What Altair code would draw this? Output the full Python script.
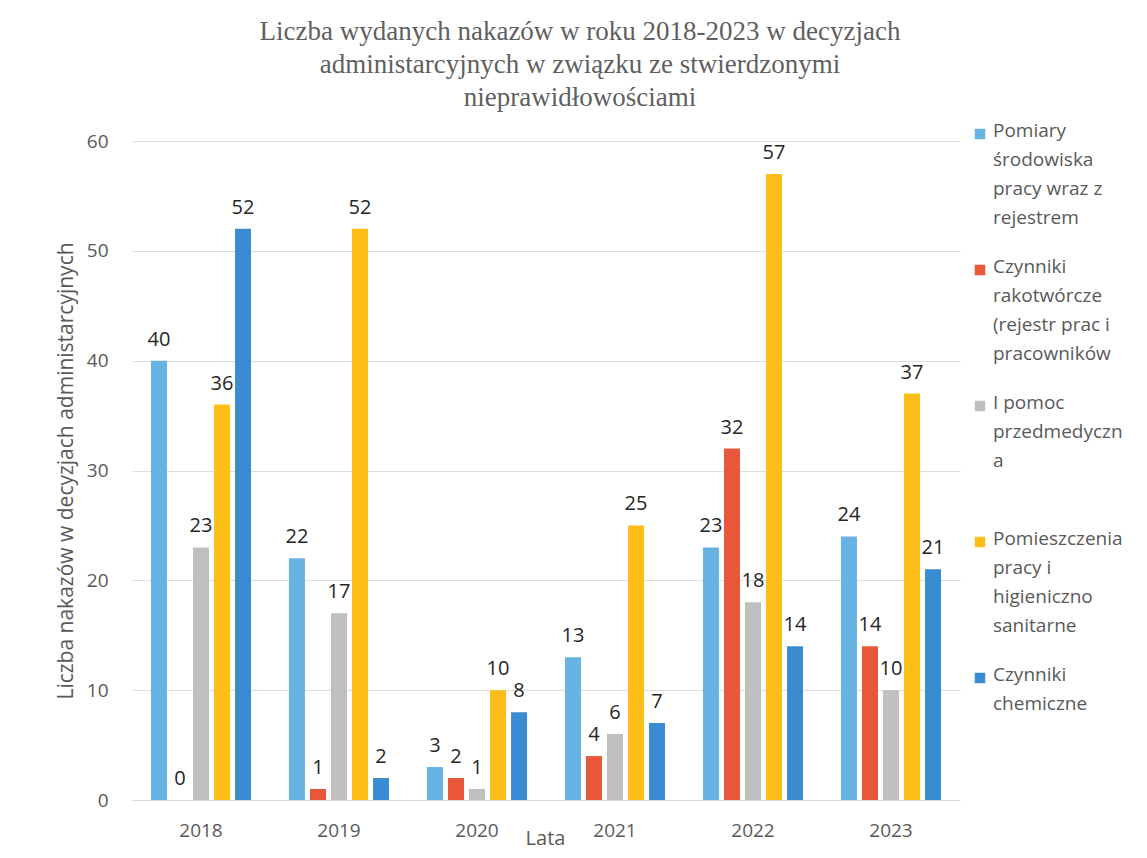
import altair as alt
import pandas as pd

years = ["2018", "2019", "2020", "2021", "2022", "2023"]
series = [
    "Pomiary środowiska pracy wraz z rejestrem",
    "Czynniki rakotwórcze (rejestr prac i pracowników",
    "I pomoc przedmedyczna",
    "Pomieszczenia pracy i higieniczno sanitarne",
    "Czynniki chemiczne",
]
legend_lines = [
    ["Pomiary", "środowiska", "pracy wraz z", "rejestrem"],
    ["Czynniki", "rakotwórcze", "(rejestr prac i", "pracowników"],
    ["I pomoc", "przedmedyczn", "a"],
    ["Pomieszczenia", "pracy i", "higieniczno", "sanitarne"],
    ["Czynniki", "chemiczne"],
]
pomiary = [40, 22, 3, 13, 23, 24]
rakotworcze = [0, 1, 2, 4, 32, 14]
pomoc = [23, 17, 1, 6, 18, 10]
pomieszczenia = [36, 52, 10, 25, 57, 37]
chemiczne = [52, 2, 8, 7, 14, 21]
colors = ["#66B3E4", "#E9573B", "#BFBFBF", "#FDBF17", "#3A8CD2"]

title_lines = [
    "Liczba wydanych nakazów w roku 2018-2023 w decyzjach",
    "administarcyjnych w związku ze stwierdzonymi",
    "nieprawidłowościami",
]

rows = []
for s, vals in zip(series, [pomiary, rakotworcze, pomoc, pomieszczenia, chemiczne]):
    for yr, v in zip(years, vals):
        rows.append({"rok": yr, "seria": s, "wartosc": v})
df = pd.DataFrame(rows)

leg = pd.DataFrame({
    "seria": series,
    "tekst": ["\n".join(l) for l in legend_lines],
    "ly": [-7 + i * 136 for i in range(len(series))],
})

FONT = "Open Sans"
TXT = "#595959"

x = alt.X(
    "rok:N", sort=years,
    scale=alt.Scale(paddingInner=0.275, paddingOuter=0.1375),
    axis=alt.Axis(title="Lata", labelAngle=0, ticks=False, domain=True,
                  domainColor="#d9d9d9", labelPadding=21, labelFontSize=19,
                  labelFont=FONT, labelColor=TXT, titleFont=FONT,
                  titleFontSize=20, titleColor=TXT, titleFontWeight="normal",
                  titleX=413, titleY=44, titleBaseline="alphabetic"),
)
xo = alt.XOffset("seria:N", sort=series,
                 scale=alt.Scale(paddingInner=0.24, paddingOuter=0))
y = alt.Y(
    "wartosc:Q", scale=alt.Scale(domain=[0, 60], nice=False),
    axis=alt.Axis(values=[0, 10, 20, 30, 40, 50, 60], ticks=False, domain=False,
                  grid=True, gridColor="#dedede", labelPadding=24,
                  labelFontSize=19, labelFont=FONT, labelColor=TXT,
                  title="Liczba nakazów w decyzjach administarcyjnych",
                  titleFont=FONT, titleFontSize=21, titleColor=TXT,
                  titleFontWeight="normal", titlePadding=10),
)
color = alt.Color("seria:N", sort=series,
                  scale=alt.Scale(domain=series, range=colors), legend=None)

bars = alt.Chart(df).mark_bar().encode(x=x, xOffset=xo, y=y, color=color)
labels = alt.Chart(df).mark_text(
    baseline="alphabetic", dy=-15, fontSize=20, font=FONT, color="#262626"
).encode(x=x, xOffset=xo, y=y, text="wartosc:Q")

sq = alt.Chart(leg).mark_square(size=110, opacity=1).encode(
    x=alt.value(848),
    y=alt.Y("ly:Q", scale=None, axis=None),
    color=color,
)
lt = alt.Chart(leg).mark_text(
    align="left", baseline="top", lineBreak="\n", lineHeight=29,
    fontSize=19, font=FONT, color=TXT, dy=-12,
).encode(
    x=alt.value(861),
    y=alt.Y("ly:Q", scale=None, axis=None),
    text="tekst:N",
)

main = alt.layer(bars, labels)
legend_layer = alt.layer(sq, lt)

chart = alt.layer(main, legend_layer).resolve_scale(y="independent").properties(
    width=828, height=659,
    padding={"left": 124, "top": 133, "right": 170, "bottom": 50},
    autosize=alt.AutoSizeParams(type="none"),
    title=alt.TitleParams(text=title_lines, font="Liberation Serif", fontSize=27,
                          color="#5f5f5f", fontWeight="normal", anchor="middle",
                          dx=34, offset=10, lineHeight=33),
).configure_view(stroke=None)

chart.save("out.html", embed_options={"renderer": "svg", "actions": False})
